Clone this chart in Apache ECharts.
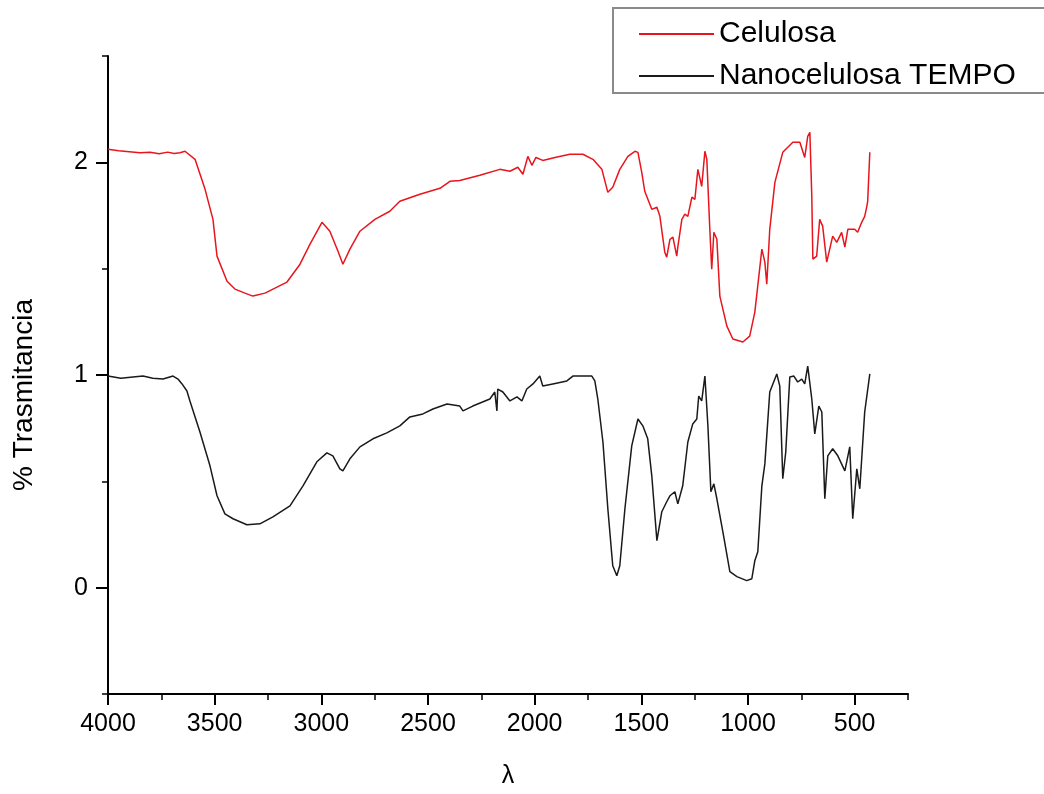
<!DOCTYPE html>
<html>
<head>
<meta charset="utf-8">
<script src="https://cdn.jsdelivr.net/npm/echarts@6/dist/echarts.min.js"></script>
<style>
html,body{margin:0;padding:0;background:#fff;}
#chart{width:1044px;height:794px;}
</style>
</head>
<body>
<div id="chart"></div>
<script>
// Series names
var seriesNames = ['Celulosa', 'Nanocelulosa TEMPO'];

// Celulosa: wavenumber (cm-1) and % transmittance (offset)
var celWn = [4000,3950,3900,3850,3803,3760,3720,3690,3663,3639,3592,3545,3508,3489,3442,3405,3358,3321,3264,3208,3161,3100,3053,2997,2960,2922,2899,2866,2819,2749,2679,2632,2538,2444,2397,2351,2257,2163,2116,2079,2055,2032,2013,1994,1962,1905,1835,1774,1727,1685,1657,1634,1601,1563,1530,1516,1498,1484,1451,1427,1413,1390,1381,1366,1352,1334,1329,1310,1296,1282,1263,1249,1235,1217,1202,1193,1179,1170,1160,1146,1132,1099,1071,1024,992,968,935,921,912,898,874,837,790,757,734,720,710,701,696,678,664,650,631,617,603,584,561,546,532,500,486,467,453,443,439,429];
var celVal = [2.061,2.055,2.050,2.045,2.047,2.040,2.048,2.042,2.045,2.052,2.014,1.873,1.732,1.559,1.441,1.404,1.385,1.371,1.385,1.413,1.437,1.521,1.615,1.718,1.676,1.582,1.521,1.592,1.676,1.732,1.770,1.817,1.850,1.878,1.911,1.915,1.939,1.967,1.958,1.977,1.944,2.028,1.986,2.023,2.009,2.023,2.038,2.038,2.014,1.967,1.859,1.883,1.967,2.028,2.052,2.047,1.953,1.864,1.779,1.789,1.746,1.577,1.554,1.638,1.648,1.559,1.601,1.732,1.756,1.746,1.836,1.826,1.967,1.887,2.052,2.014,1.685,1.498,1.671,1.638,1.371,1.230,1.169,1.155,1.183,1.296,1.592,1.531,1.427,1.685,1.906,2.047,2.094,2.094,2.023,2.122,2.141,1.840,1.545,1.559,1.732,1.700,1.531,1.592,1.653,1.624,1.671,1.601,1.685,1.685,1.671,1.718,1.746,1.793,1.817,2.047];

// Nanocelulosa TEMPO
var nanoWn = [4000,3991,3940,3883,3836,3790,3742,3695,3672,3653,3630,3616,3569,3522,3489,3452,3414,3349,3288,3227,3147,3086,3021,2974,2946,2913,2899,2866,2819,2758,2693,2632,2585,2524,2477,2411,2351,2336,2290,2210,2187,2177,2173,2149,2116,2083,2060,2037,2008,1976,1962,1915,1849,1821,1774,1732,1718,1704,1680,1657,1634,1615,1601,1577,1545,1516,1493,1470,1451,1427,1404,1381,1366,1343,1329,1306,1282,1259,1240,1231,1217,1202,1188,1174,1160,1146,1118,1085,1052,1006,982,968,954,935,921,898,865,851,837,823,804,785,767,748,734,720,701,687,668,654,640,626,603,579,546,523,509,490,476,453,429];
var nanoVal = [0.995,0.990,0.985,0.991,0.995,0.985,0.981,0.995,0.981,0.958,0.925,0.878,0.732,0.573,0.432,0.347,0.324,0.296,0.300,0.333,0.385,0.479,0.592,0.634,0.620,0.559,0.549,0.606,0.662,0.700,0.728,0.761,0.803,0.817,0.840,0.864,0.854,0.831,0.854,0.887,0.920,0.831,0.934,0.920,0.878,0.897,0.878,0.934,0.958,0.995,0.948,0.958,0.972,0.995,0.995,0.995,0.972,0.887,0.685,0.371,0.103,0.056,0.103,0.371,0.667,0.793,0.761,0.700,0.526,0.221,0.357,0.404,0.432,0.451,0.394,0.479,0.685,0.770,0.793,0.901,0.878,0.995,0.761,0.451,0.488,0.418,0.263,0.075,0.052,0.033,0.042,0.127,0.169,0.479,0.582,0.920,1.005,0.948,0.512,0.638,0.991,0.995,0.967,0.981,0.958,1.042,0.887,0.723,0.854,0.826,0.418,0.620,0.653,0.620,0.549,0.662,0.324,0.559,0.465,0.826,1.005];

// Tick positions (every tick) – labels shown on the major ones
var xTicks = ['4000','3750','3500','3250','3000','2750','2500','2250','2000','1750','1500','1250','1000','750','500','250'];
var yTicks = ['-0.5','0','0.5','1','1.5','2','2.5'];

function pairs(xs, ys){ var out=[]; for(var i=0;i<xs.length;i++) out.push([xs[i], ys[i]]); return out; }
function isMajorX(idx, val){ return Number(val) % 500 === 0; }
function isMajorY(idx, val){ return Number(val) % 1 === 0; }

var FONT = '"Liberation Sans", Arial, Helvetica, sans-serif';
var chart = echarts.init(document.getElementById('chart'), null, {renderer:'canvas'});
var option = {
  backgroundColor: '#ffffff',
  animation: false,
  textStyle: {fontFamily: FONT, color: '#000'},
  grid: {left:108, right:136, top:56, bottom:98, containLabel:false},
  legend: {
    orient: 'vertical', left: 613, top: 8,
    padding: [11, 60, 2, 25],
    itemWidth: 75, itemHeight: 28, itemGap: 12,
    borderColor: '#8a8a8a', borderWidth: 2,
    itemStyle: {opacity: 0},
    textStyle: {fontSize: 30, color: '#000', fontFamily: FONT},
    data: seriesNames
  },
  xAxis: [{
    // value axis carrying the data, axis line and minor ticks
    type: 'value', inverse: true, min: 250, max: 4000, interval: 250, position: 'bottom',
    name: 'λ', nameLocation: 'middle', nameGap: 70,
    nameTextStyle: {fontSize: 25, color: '#000', fontFamily: FONT},
    axisLine: {show: true, onZero: false, lineStyle: {color: '#000', width: 2}},
    axisTick: {show: true, length: 6, lineStyle: {color:'#000', width: 1.5}},
    axisLabel: {show: false},
    splitLine: {show: false}
  }, {
    // major ticks + labels
    type: 'category', data: xTicks, boundaryGap: false, position: 'bottom',
    axisLine: {show: false, onZero: false},
    axisTick: {show: true, length: 11, interval: isMajorX, lineStyle: {color:'#000', width: 2}},
    axisLabel: {show: true, interval: isMajorX, margin: 18, fontSize: 25, color: '#000', fontFamily: FONT},
    splitLine: {show: false}
  }],
  yAxis: [{
    type: 'value', min: -0.5, max: 2.5, interval: 0.5, position: 'left',
    name: '% Trasmitancia', nameLocation: 'middle', nameGap: 70, nameRotate: 90,
    nameTextStyle: {fontSize: 28, color: '#000', fontFamily: FONT, padding: [0, 40, 0, 0]},
    axisLine: {show: true, onZero: false, lineStyle: {color: '#000', width: 2}},
    axisTick: {show: true, length: 6, lineStyle: {color:'#000', width: 1.5}},
    axisLabel: {show: false},
    splitLine: {show: false}
  }, {
    type: 'category', data: yTicks, boundaryGap: false, position: 'left',
    axisLine: {show: false, onZero: false},
    axisTick: {show: true, length: 12, interval: isMajorY, lineStyle: {color:'#000', width: 2}},
    axisLabel: {show: true, interval: isMajorY, margin: 20, fontSize: 25, color: '#000', fontFamily: FONT},
    splitLine: {show: false}
  }],
  series: [{
    name: seriesNames[0], type: 'line', symbol: 'none', xAxisIndex: 0, yAxisIndex: 0,
    data: pairs(celWn, celVal),
    lineStyle: {color: '#e8151d', width: 1.5},
    itemStyle: {color: '#e8151d'}
  }, {
    name: seriesNames[1], type: 'line', symbol: 'none', xAxisIndex: 0, yAxisIndex: 0,
    data: pairs(nanoWn, nanoVal),
    lineStyle: {color: '#1a1a1a', width: 1.5},
    itemStyle: {color: '#1a1a1a'}
  }]
};
chart.setOption(option);
</script>
</body>
</html>
